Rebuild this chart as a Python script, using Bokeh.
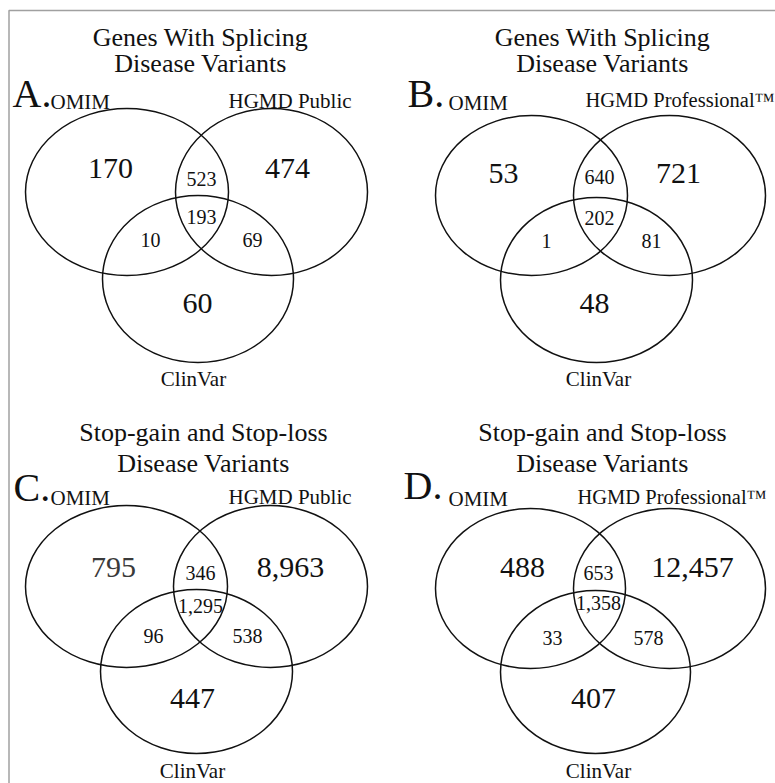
from bokeh.plotting import figure
from bokeh.models import Range1d, ColumnDataSource
from bokeh.core.properties import value
from bokeh.embed import file_html
from bokeh.resources import INLINE

# ---------------- data ----------------
panel_letters = ["A.", "B.", "C.", "D."]
title_line1 = ["Genes With Splicing", "Genes With Splicing",
               "Stop-gain and Stop-loss", "Stop-gain and Stop-loss"]
title_line2 = ["Disease Variants", "Disease Variants",
               "Disease Variants", "Disease Variants"]
set_omim = ["OMIM", "OMIM", "OMIM", "OMIM"]
set_hgmd = ["HGMD Public", "HGMD Professional\u2122",
            "HGMD Public", "HGMD Professional\u2122"]
set_clinvar = ["ClinVar", "ClinVar", "ClinVar", "ClinVar"]

# region order: OMIM only, HGMD only, OMIM&HGMD, all three,
#               OMIM&ClinVar, HGMD&ClinVar, ClinVar only
region_names = ["OMIM only", "HGMD only", "OMIM+HGMD", "All three",
                "OMIM+ClinVar", "HGMD+ClinVar", "ClinVar only"]
counts_A = [170, 474, 523, 193, 10, 69, 60]
counts_B = [53, 721, 640, 202, 1, 81, 48]
counts_C = [795, 8963, 346, 1295, 96, 538, 447]
counts_D = [488, 12457, 653, 1358, 33, 578, 407]
all_counts = [counts_A, counts_B, counts_C, counts_D]

# ---------------- layout (reference pixel space) ----------------
layouts = [
    dict(title_x=200, title_y=(37, 63), letter=(12, 93),
         omim=(50, 101), hgmd=(228, 100), hgmd_size="21px", clinvar=(193, 378),
         ell=[(126.5, 191.5, 203, 167), (271, 191.5, 192, 167), (197.5, 278.5, 191, 167)],
         pos=[(110, 168), (287, 168), (201, 178), (201, 216), (150, 239), (252, 239), (197, 303)]),
    dict(title_x=602, title_y=(37, 63), letter=(407, 93),
         omim=(448, 102), hgmd=(585, 99), hgmd_size="20.5px", clinvar=(598, 378),
         ell=[(531, 195, 192, 160), (669, 195, 192, 160), (596, 279.5, 192, 165)],
         pos=[(503, 173), (678, 173), (599, 176), (599, 217), (546, 240), (651, 240), (594, 303)]),
    dict(title_x=203, title_y=(432, 463), letter=(13, 487),
         omim=(50, 497), hgmd=(228, 496), hgmd_size="21px", clinvar=(192, 770),
         ell=[(126, 586, 202, 162), (270, 586, 194, 162), (196, 671, 192, 164)],
         pos=[(113, 567), (290, 567), (200, 572), (200, 605), (153, 635), (247, 635), (192, 698)]),
    dict(title_x=602, title_y=(432, 463), letter=(403, 485),
         omim=(448, 498), hgmd=(577, 496), hgmd_size="20.5px", clinvar=(598, 770),
         ell=[(530, 588, 190, 160), (669, 588, 192, 160), (595, 671.5, 190, 163)],
         pos=[(522, 567), (692, 567), (598, 572), (598, 602), (552, 637), (648, 637), (593, 698)]),
]
big_regions = {0, 1, 6}
FONT = value("Liberation Serif")

p = figure(width=775, height=783, x_range=Range1d(0, 775), y_range=Range1d(783, 0),
           toolbar_location=None, output_backend="svg", min_border=0)
p.axis.visible = False
p.grid.visible = False
p.outline_line_color = None
p.background_fill_color = "white"
p.border_fill_color = "white"

# frame border of the figure (top and left edges visible)
p.line(x=[8.5, 8.5, 775], y=[783, 10, 10], line_color="#a0a0a0", line_width=1.5)

for i in range(4):
    L = layouts[i]
    counts = all_counts[i]
    es = ColumnDataSource(dict(x=[e[0] for e in L["ell"]], y=[e[1] for e in L["ell"]],
                               w=[e[2] for e in L["ell"]], h=[e[3] for e in L["ell"]]))
    p.ellipse(x="x", y="y", width="w", height="h", source=es,
              fill_color=None, line_color="#111111", line_width=1.5)
    p.text(x=[L["title_x"], L["title_x"]], y=list(L["title_y"]),
           text=[title_line1[i], title_line2[i]], text_font=FONT,
           text_font_size="26px", text_align="center", text_baseline="middle",
           text_color="#111111")
    p.text(x=[L["letter"][0]], y=[L["letter"][1]], text=[panel_letters[i]],
           text_font=FONT, text_font_size="40px", text_align="left",
           text_baseline="alphabetic", text_color="#111111")
    p.text(x=[L["omim"][0]], y=[L["omim"][1]], text=[set_omim[i]],
           text_font=FONT, text_font_size="21px",
           text_align="left", text_baseline="middle", text_color="#111111")
    p.text(x=[L["hgmd"][0]], y=[L["hgmd"][1]], text=[set_hgmd[i]],
           text_font=FONT, text_font_size=L["hgmd_size"],
           text_align="left", text_baseline="middle", text_color="#111111")
    p.text(x=[L["clinvar"][0]], y=[L["clinvar"][1]], text=[set_clinvar[i]],
           text_font=FONT, text_font_size="21px", text_align="center",
           text_baseline="middle", text_color="#111111")
    big = [k for k in range(7) if k in big_regions]
    small = [k for k in range(7) if k not in big_regions]
    colors = ["#3a3a3a" if (i == 2 and k == 0) else "#111111" for k in big]
    p.text(x=[L["pos"][k][0] for k in big], y=[L["pos"][k][1] for k in big],
           text=[f"{counts[k]:,}" for k in big], text_color=colors,
           text_font=FONT, text_font_size="30px", text_align="center",
           text_baseline="middle")
    p.text(x=[L["pos"][k][0] for k in small], y=[L["pos"][k][1] for k in small],
           text=[f"{counts[k]:,}" for k in small], text_color="#111111",
           text_font=FONT, text_font_size="20px", text_align="center",
           text_baseline="middle")

open("out.html", "w").write(file_html(p, INLINE))
